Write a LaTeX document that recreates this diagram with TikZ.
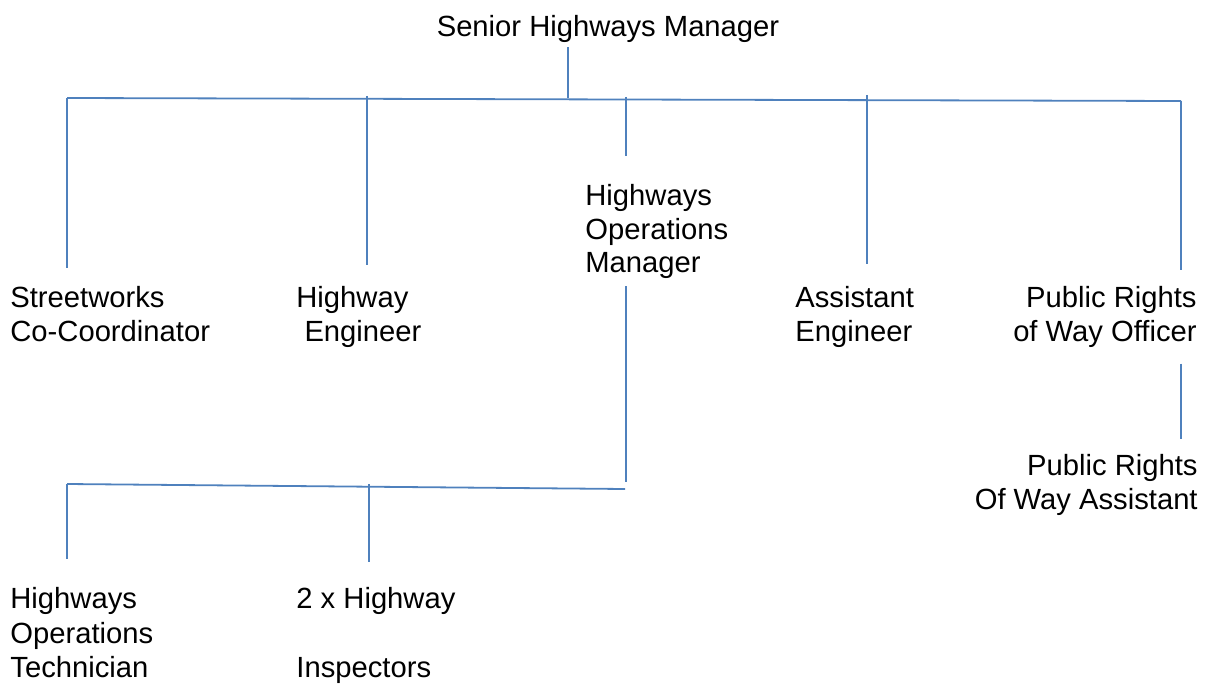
\documentclass[tikz,border=0pt]{standalone}
\usepackage{fontspec}
\setmainfont{Liberation Sans}
\usepackage{tikz}
\usetikzlibrary{calc}
\usepackage{xcolor}
\definecolor{linkblue}{RGB}{79,129,189}

\begin{document}
\begin{tikzpicture}[x=0.5pt,y=-0.5pt,
  post/.style={inner sep=0pt, align=left, font=\fontsize{14.6}{16.75}\selectfont},
  link/.style={draw=linkblue, line width=0.9pt}]
\useasboundingbox (0,0) rectangle (1208,684);

% Top of the tree
\node[post, anchor=base] (shm) at (608,37) {Senior Highways Manager};

% Second row
\node[post, anchor=north west] (swc) at (10,286) {Streetworks\\Co-Coordinator};
\node[post, anchor=north west] (he) at (296,286) {Highway\\\ Engineer};
\node[post, anchor=north west] (hom) at (585,184) {Highways\\Operations\\Manager};
\node[post, anchor=north west] (ae) at (795,286) {Assistant\\Engineer};
\node[post, anchor=north east, align=right] (prwo) at (1197,286) {Public Rights\\of Way Officer};

% Third row
\node[post, anchor=north east, align=right] (prwa) at (1198,454) {Public Rights\\Of Way Assistant};
\node[post, anchor=north west, font=\fontsize{14.6}{17.25}\selectfont] (hot) at (10,587) {Highways\\Operations\\Technician};
\node[post, anchor=north west, font=\fontsize{14.6}{17.25}\selectfont] (hi) at (296,587) {2 x Highway\\\mbox{}\\Inspectors};

% Main bus
\coordinate (busL) at (67,98);
\coordinate (busR) at (1181,101);
\coordinate (t0) at (568,98);
\coordinate (t2) at (367,96);
\coordinate (t3) at (626,97);
\coordinate (t4) at (867,95);
\draw[link] (busL) -- (busR);
\draw[link, shorten <=2pt] (shm.south -| t0) -- (t0);

% Drops to the second row
\draw[link, shorten >=9pt] (busL) -- (busL |- swc.north);
\draw[link, shorten >=10.5pt] (t2) -- (t2 |- he.north);
\draw[link, shorten >=14pt] (t3) -- (t3 |- hom.north);
\draw[link, shorten >=11pt] (t4) -- (t4 |- ae.north);
\draw[link, shorten >=8pt] (busR) -- (busR |- prwo.north);

% Rights of way branch
\draw[link, shorten <=8pt, shorten >=7.5pt] (prwo.south -| busR) -- (prwa.north -| busR);

% Operations branch
\coordinate (subL) at (67,484);
\coordinate (subR) at (625,489);
\coordinate (homdrop) at (626,482);
\coordinate (s2) at (369,484);
\draw[link, shorten <=3.5pt] (hom.south -| homdrop) -- (homdrop);
\draw[link] (subL) -- (subR);
\draw[link, shorten >=14pt] (subL) -- (subL |- hot.north);
\draw[link, shorten >=12.5pt] (s2) -- (s2 |- hi.north);
\end{tikzpicture}
\end{document}
